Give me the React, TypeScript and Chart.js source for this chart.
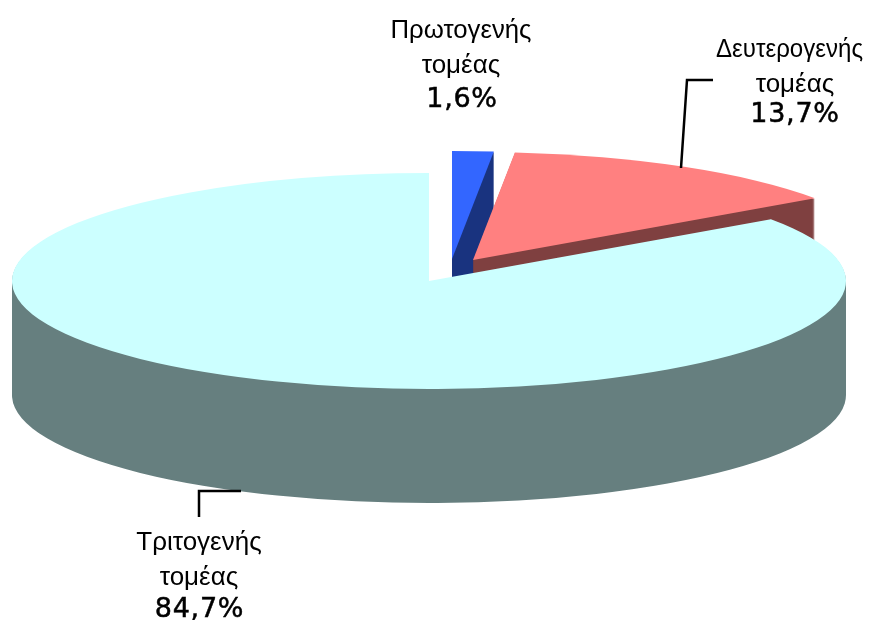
import React, { useEffect, useRef } from "react";
import { Chart, registerables } from "chart.js";

Chart.register(...registerables);

const categories = ["Πρωτογενής τομέας", "Δευτερογενής τομέας", "Τριτογενής τομέας"];
const shares = [1.6, 13.7, 84.7];
const percentLabels = ["1,6%", "13,7%", "84,7%"];
const topColors = ["#3366FF", "#FF8080", "#CCFFFF"];
const wallColors = ["#19337F", "#7F4040", "#667F7F"];

const FONT = '"Liberation Sans"';
const RX = 417;
const RY = 108;
const WALL = 114;
const centers = [
  { x: 452, y: 259 },
  { x: 473, y: 260 },
  { x: 429, y: 281 },
];
const labelLayout = [
  { xs: [461, 461, 462], ys: [38, 73, 107], maxFirst: 141 },
  { xs: [789.5, 795, 795], ys: [57, 92, 122], maxFirst: 147 },
  { xs: [199, 199, 199.5], ys: [550, 585, 617], maxFirst: 126 },
];
const leaders = [
  null,
  [[681, 168], [687, 80], [713, 80]],
  [[199, 517], [199, 491], [241, 491]],
];

const pie3d = {
  id: "pie3d",
  beforeDatasetsDraw(chart: any) {
    const ctx = chart.ctx;
    const arcs = chart.getDatasetMeta(0).data;
    arcs.forEach((arc: any, i: number) => {
      const { startAngle, endAngle, outerRadius: R } = arc.getProps(["startAngle", "endAngle", "outerRadius"]);
      const c = centers[i];
      const addSlice = (dy: number) => {
        ctx.save();
        ctx.translate(c.x, c.y + dy);
        ctx.scale(RX / R, RY / R);
        ctx.moveTo(0, 0);
        ctx.arc(0, 0, R, startAngle, endAngle);
        ctx.closePath();
        ctx.restore();
      };
      ctx.beginPath();
      for (let d = WALL; d > 0; d -= 1) addSlice(d);
      ctx.fillStyle = wallColors[i];
      ctx.fill();
      ctx.beginPath();
      addSlice(0);
      ctx.fillStyle = topColors[i];
      ctx.fill();
    });
    return false;
  },
  afterDraw(chart: any) {
    const ctx = chart.ctx;
    ctx.save();
    ctx.strokeStyle = "#000";
    ctx.lineWidth = 2.5;
    leaders.forEach((pts) => {
      if (!pts) return;
      ctx.beginPath();
      pts.forEach((p, k) => (k ? ctx.lineTo(p[0], p[1]) : ctx.moveTo(p[0], p[1])));
      ctx.stroke();
    });
    ctx.fillStyle = "#000";
    ctx.textAlign = "center";
    ctx.textBaseline = "alphabetic";
    categories.forEach((name, i) => {
      const [a, b] = name.split(" ");
      const l = labelLayout[i];
      ctx.letterSpacing = "0px";
      ctx.font = `400 26px ${FONT}`;
      ctx.fillText(a, l.xs[0], l.ys[0], l.maxFirst);
      ctx.fillText(b, l.xs[1], l.ys[1]);
      ctx.font = `400 27px "DejaVu Sans"`;
      ctx.letterSpacing = "0.7px";
      ctx.lineWidth = 0.5;
      ctx.fillText(percentLabels[i], l.xs[2], l.ys[2]);
      ctx.strokeText(percentLabels[i], l.xs[2], l.ys[2]);
    });
    ctx.restore();
  },
};

export default function App() {
  const ref = useRef<HTMLCanvasElement>(null);
  useEffect(() => {
    const chart = new Chart(ref.current!, {
      type: "pie",
      data: {
        labels: categories,
        datasets: [{ data: shares, backgroundColor: topColors, borderWidth: 0 }],
      },
      options: {
        responsive: false,
        animation: false,
        plugins: { legend: { display: false }, tooltip: { enabled: false } },
      },
      plugins: [pie3d],
    } as any);
    return () => chart.destroy();
  }, []);
  return (
    <div style={{ position: "absolute", left: 0, top: 0, width: 877, height: 620, background: "#fff" }}>
      <canvas ref={ref} width={877} height={620} style={{ display: "block" }} />
    </div>
  );
}
